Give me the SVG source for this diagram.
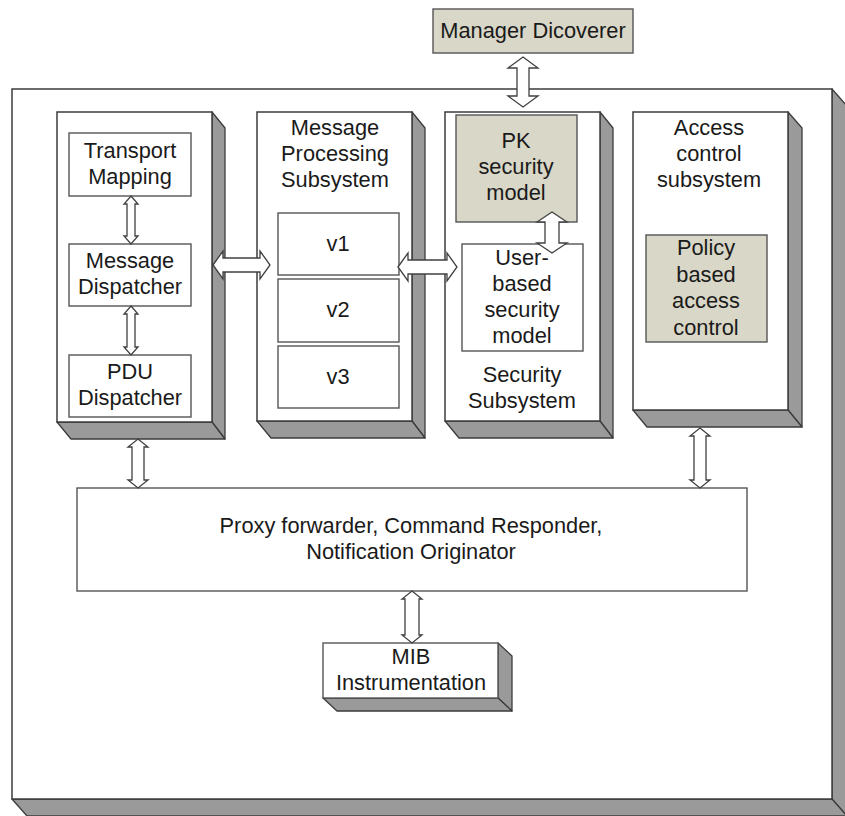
<svg xmlns="http://www.w3.org/2000/svg" width="845" height="816" viewBox="0 0 845 816">
<style>
.face{fill:#ffffff;stroke:#3c3c3c;stroke-width:1.5}
.side{fill:#9a9a9a;stroke:#3c3c3c;stroke-width:1.3;stroke-linejoin:round}
.box{fill:#ffffff;stroke:#555555;stroke-width:1.4}
.beige{fill:#d9d7c7;stroke:#555555;stroke-width:1.4}
.arr{fill:#ffffff;stroke:#404040;stroke-width:1.3;stroke-linejoin:miter}
text{font-family:"Liberation Sans",Arial,sans-serif;font-size:21.8px;fill:#1a1a1a;text-anchor:middle}
</style>
<rect width="845" height="816" fill="#ffffff"/>

<g id="outer">
<polygon class="side" points="832,89 847,106 847,816 832,799"/>
<polygon class="side" points="12,799 27,816 847,816 832,799"/>
<rect class="face" x="12" y="89" width="820" height="710"/>
</g>

<g id="manager">
<rect class="beige" x="433" y="9" width="200" height="44"/>
<text x="533" y="38">Manager Dicoverer</text>
</g>

<g id="left-column">
<polygon class="side" points="212,112 225,128 225,439 212,422"/>
<polygon class="side" points="57,422 71,439 225,439 212,422"/>
<rect class="face" x="57" y="112" width="155" height="310"/>
</g>
<g id="transport">
<rect class="box" x="69" y="133" width="122" height="63"/>
<text x="130" y="158">Transport</text>
<text x="130" y="184">Mapping</text>
</g>
<g id="msg-dispatcher">
<rect class="box" x="69" y="244" width="122" height="62"/>
<text x="130" y="268">Message</text>
<text x="130" y="294">Dispatcher</text>
</g>
<g id="pdu-dispatcher">
<rect class="box" x="69" y="355" width="122" height="62"/>
<text x="130" y="379">PDU</text>
<text x="130" y="405">Dispatcher</text>
</g>

<g id="mp-subsystem">
<polygon class="side" points="412,112 425,128 425,438 412,421"/>
<polygon class="side" points="257,421 271,438 425,438 412,421"/>
<rect class="face" x="257" y="112" width="155" height="309"/>
<text x="335" y="135">Message</text>
<text x="335" y="161">Processing</text>
<text x="335" y="187">Subsystem</text>
</g>
<g id="v1">
<rect class="box" x="278" y="213" width="121" height="62"/>
<text x="338" y="251">v1</text>
</g>
<g id="v2">
<rect class="box" x="278" y="279" width="121" height="63"/>
<text x="338" y="317">v2</text>
</g>
<g id="v3">
<rect class="box" x="278" y="346" width="121" height="62"/>
<text x="338" y="384">v3</text>
</g>

<g id="security-subsystem">
<polygon class="side" points="600,112 613,128 613,438 600,421"/>
<polygon class="side" points="445,421 459,438 613,438 600,421"/>
<rect class="face" x="445" y="112" width="155" height="309"/>
<text x="522" y="382">Security</text>
<text x="522" y="408">Subsystem</text>
</g>
<g id="pk-model">
<rect class="beige" x="456" y="115" width="121" height="107"/>
<text x="516" y="148">PK</text>
<text x="516" y="174">security</text>
<text x="516" y="200">model</text>
</g>
<g id="user-model">
<rect class="box" x="462" y="244" width="121" height="107"/>
<text x="522" y="265">User-</text>
<text x="522" y="291">based</text>
<text x="522" y="317">security</text>
<text x="522" y="343">model</text>
</g>

<g id="access-subsystem">
<polygon class="side" points="788,112 802,128 802,427 788,410"/>
<polygon class="side" points="633,410 647,427 802,427 788,410"/>
<rect class="face" x="633" y="112" width="155" height="298"/>
<text x="709" y="135">Access</text>
<text x="709" y="161">control</text>
<text x="709" y="187">subsystem</text>
</g>
<g id="policy">
<rect class="beige" x="646" y="235" width="121" height="107"/>
<text x="706" y="255">Policy</text>
<text x="706" y="282">based</text>
<text x="706" y="308">access</text>
<text x="706" y="335">control</text>
</g>

<g id="proxy">
<rect class="box" x="77" y="488" width="670" height="103"/>
<text x="411" y="533">Proxy forwarder, Command Responder,</text>
<text x="411" y="559">Notification Originator</text>
</g>

<g id="mib">
<polygon class="side" points="498,643 512,656 512,711 498,698"/>
<polygon class="side" points="323,698 337,711 512,711 498,698"/>
<rect class="box" x="323" y="643" width="175" height="55"/>
<text x="411" y="664">MIB</text>
<text x="411" y="690">Instrumentation</text>
</g>

<g id="connectors">
<polygon class="arr" points="523,57 538,68 529,68 529,96 538,96 523,107 508,96 517,96 517,68 508,68"/>
<polygon class="arr" points="131,196 138,204 135,204 135,236 138,236 131,244 124,236 127,236 127,204 124,204"/>
<polygon class="arr" points="131,306 138,314 135,314 135,347 138,347 131,355 124,347 127,347 127,314 124,314"/>
<polygon class="arr" points="213,265 223,251 223,258 260,258 260,251 270,265 260,279 260,272 223,272 223,279"/>
<polygon class="arr" points="398,267 408,253 408,260 447,260 447,253 457,267 447,281 447,274 408,274 408,281"/>
<polygon class="arr" points="552,212 567,222 559,222 559,243 567,243 552,253 537,243 545,243 545,222 537,222"/>
<polygon class="arr" points="138,439 148,447 144,447 144,480 148,480 138,488 128,480 132,480 132,447 128,447"/>
<polygon class="arr" points="700,428 710,436 706,436 706,480 710,480 700,488 690,480 694,480 694,436 690,436"/>
<polygon class="arr" points="412,591 422,599 419,599 419,635 422,635 412,643 402,635 405,635 405,599 402,599"/>
</g>
</svg>
